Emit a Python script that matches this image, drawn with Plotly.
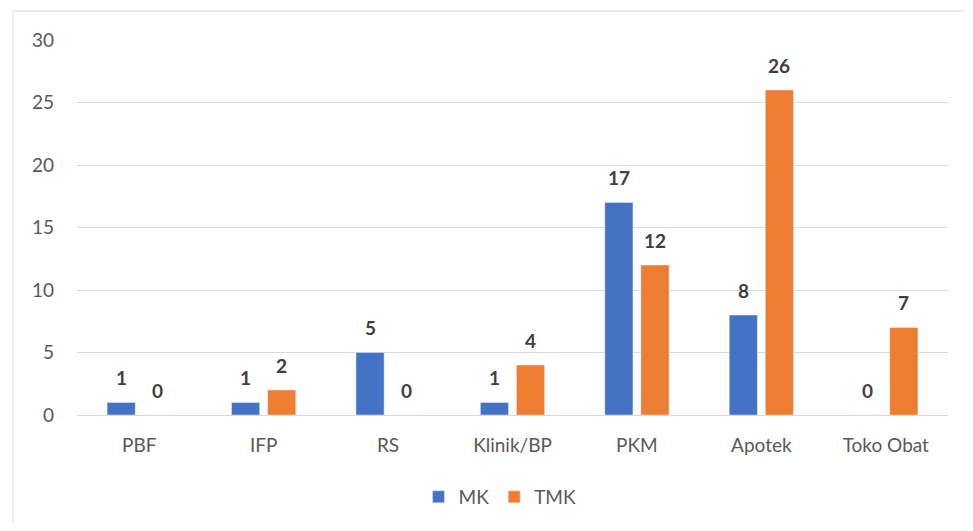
import plotly.graph_objects as go

categories = ["PBF", "IFP", "RS", "Klinik/BP", "PKM", "Apotek", "Toko Obat"]
mk_values = [1, 1, 5, 1, 17, 8, 0]
tmk_values = [0, 2, 0, 4, 12, 26, 7]
y_ticks = [0, 5, 10, 15, 20, 25, 30]

FONT = "Lato, Carlito, Calibri, sans-serif"
LABEL_COLOR = "#404040"

fig = go.Figure()
fig.add_trace(go.Bar(name="MK", x=categories, y=mk_values, marker_color="#4472C4"))
fig.add_trace(go.Bar(name="TMK", x=categories, y=tmk_values, marker_color="#ED7D31"))

# data labels, placed from the data values
annotations = []
for series, shift in ((mk_values, -18), (tmk_values, 18)):
    for cat, val in zip(categories, series):
        annotations.append(dict(
            x=cat, y=val, xref="x", yref="y", text=f"<b>{val}</b>",
            showarrow=False, xshift=shift, yshift=25, yanchor="middle",
            font=dict(family=FONT, size=19, color=LABEL_COLOR),
        ))

# page body has an 8px margin; keep the figure inside the window
W, H = 957, 515
L, R, T, B = 69, 17, 32, 108
pw = W - L - R
ph = H - T - B

# chart-area border (left and top edges visible; right/bottom fall outside the window)
bx0 = (5 - L) / pw
bx1 = (W + 20 - L) / pw
by0 = -(H + 20 - (T + ph)) / ph
by1 = 1 + (T - 3) / ph
border_path = f"M {bx0},{by0} L {bx0},{by1} L {bx1},{by1}"

fig.update_layout(
    width=W, height=H,
    margin=dict(l=L, r=R, t=T, b=B, autoexpand=False),
    paper_bgcolor="white", plot_bgcolor="white",
    barmode="group", bargap=0.42, bargroupgap=0.22,
    font=dict(family=FONT, size=19, color="#595959"),
    showlegend=True,
    legend=dict(orientation="h", x=(500 - 77) / pw, xanchor="center", y=(ph - (489 - T)) / ph,
                yanchor="middle", font=dict(size=19, color="#595959"),
                itemwidth=30, traceorder="normal"),
    xaxis=dict(showgrid=False, showline=False, ticks="", tickfont=dict(size=19),
               ticklabelstandoff=17),
    yaxis=dict(range=[0, 30], tickvals=y_ticks, showgrid=True, gridcolor="#D9D9D9",
               gridwidth=1, zeroline=True, zerolinecolor="#D9D9D9", zerolinewidth=1,
               ticks="", ticklabelstandoff=22, tickfont=dict(size=19)),
    annotations=annotations,
    shapes=[dict(type="path", xref="paper", yref="paper", path=border_path,
                 line=dict(color="#D9D9D9", width=1), layer="below")],
)

fig.write_html("out.html")
